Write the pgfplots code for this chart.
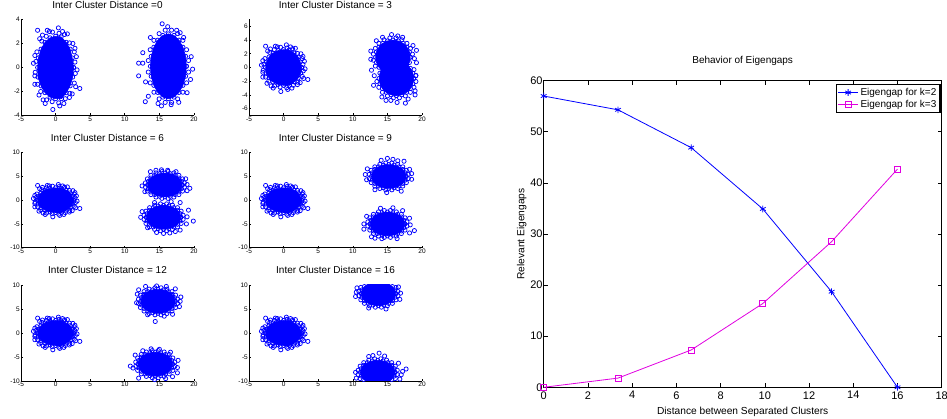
\documentclass[border=0pt]{standalone}
\usepackage{pgfplots}
\pgfplotsset{compat=1.18}
\usepackage{pgfplotstable}
\usepackage{fontspec}
\setmainfont{Liberation Sans}
\definecolor{mblue}{rgb}{0,0,1}
\definecolor{mmag}{rgb}{0.88,0,0.88}

% dense part of the cluster at the origin (same in every panel)
\pgfplotstableread{
x y
2.6 0
2.4 0.8
2.1 1.53
1.53 2.1
0.8 2.55
0 2.6
-0.8 2.47
-1.53 2.1
-2.1 1.53
-2.47 0.8
-2.6 0
-2.55 -0.8
-2.1 -1.53
-1.53 -2.1
-0.8 -2.47
0 -2.6
0.85 -2.6
1.53 -2.1
2.1 -1.53
2.47 -0.8
2.6 0
}\leftcore

% scattered samples of the cluster at the origin
\pgfplotstableread{
x y
2.8 0.45
2.7 1.3
2.0 2.05
1.3 2.75
0.5 2.85
-0.45 2.95
-1.35 2.6
-2.0 2.2
-2.7 1.3
-2.85 0.5
-2.95 -0.4
-2.6 -1.4
-2.15 -2.0
-1.3 -2.7
-0.5 -2.85
0.45 -2.95
1.4 -2.6
2.05 -2.15
2.7 -1.3
2.85 -0.5
-2.6 3.1
0.4 3.3
-0.4 -3.5
0.6 -3.2
1.2 -3.0
3.5 -1.75
-3.2 0.35
-3.0 -1.4
-1.8 -2.7
-1.9 2.7
-2.3 2.4
2.9 -1.6
2.5 2.0
3.0 0.9
3.1 -0.2
1.7 2.8
-1.5 -3.0
-3.0 1.0
1.0 3.0
-0.9 3.0
2.0 -2.5
2.8 1.6
-2.4 -2.3
-3.0 -0.7
2.4 -2.2
-1.2 3.1
}\leftpts

\pgfplotsset{
  mini/.style={
    scale only axis, width=173pt, height=96pt,
    xmin=-5, xmax=20, xtick={-5,0,5,10,15,20},
    axis lines=left, axis line style={-, line width=0.8pt},
    tick align=inside, major tick length=2pt,
    tick style={black, line width=0.6pt},
    tick label style={font=\fontsize{6.5}{7}\selectfont, inner sep=1pt},
    /pgf/number format/assume math mode=true,
    title style={font=\fontsize{10}{12}\selectfont, at={(0.5,1)}, anchor=base, yshift=5.2pt},
  },
  core/.style={draw=mblue, fill=mblue, line width=0.6pt, mark=o, mark size=2.1pt, mark options={line width=0.75pt}},
  pts/.style={only marks, mark=o, draw=mblue, mark size=2.1pt, mark options={line width=0.75pt}},
}

\begin{document}
\begin{tikzpicture}
\useasboundingbox (0,0) rectangle (947pt,419pt);

% ---------- distance 0 ----------
\begin{axis}[mini, at={(21pt,303.5pt)}, anchor=south west,
  ymin=-4, ymax=4, ytick={-4,-2,0,2,4},
  title={Inter Cluster Distance =0}]
\addplot[core] table {\leftcore};
\addplot[pts] table {\leftpts};
\addplot[core] coordinates {(18.9,0.1) (18.78,0.93) (18.4,1.69) (17.83,2.28) (17.1,2.67) (16.3,2.8) (15.5,2.67) (14.77,2.28) (14.2,1.69) (13.82,0.93) (13.7,0.1) (13.82,-0.73) (14.2,-1.49) (14.77,-2.08) (15.5,-2.47) (16.3,-2.6) (17.1,-2.47) (17.83,-2.08) (18.4,-1.49) (18.78,-0.73) (18.9,0.1)};
\addplot[pts] coordinates {(19.21,0.58) (18.93,1.48) (18.39,2.26) (17.64,2.82) (16.76,3.11) (15.84,3.11) (14.96,2.82) (14.21,2.26) (13.67,1.48) (13.39,0.58) (13.39,-0.38) (13.67,-1.28) (14.21,-2.06) (14.96,-2.62) (15.84,-2.91) (16.76,-2.91) (17.64,-2.62) (18.39,-2.06) (18.93,-1.28) (19.21,-0.38)
 (12.0,0.36) (12.6,0.36) (12.0,-0.7) (12.96,-2.85) (14.8,-3.0) (16.7,-3.1) (15.4,3.64) (19.0,-2.1) (19.8,-0.14) (18.5,2.5) (18.0,2.9) (12.6,1.23) (13.0,-1.2) (17.5,3.1) (16.2,3.4) (19.6,0.9) (13.4,-2.4) (17.8,-2.9) (15.3,-3.2) (13.7,2.5) (19.5,-1.0)};
\end{axis}

% ---------- distance 3 ----------
\begin{axis}[mini, at={(249pt,303.5pt)}, anchor=south west,
  ymin=-7, ymax=7, ytick={-6,-4,-2,0,2,4,6},
  title={Inter Cluster Distance = 3}]
\addplot[core] table {\leftcore};
\addplot[pts] table {\leftpts};
\addplot[core] coordinates {(18.3,1.5) (18.18,2.27) (17.82,2.97) (17.27,3.52) (16.57,3.88) (15.8,4.0) (15.03,3.88) (14.33,3.52) (13.78,2.97) (13.42,2.27) (13.3,1.5) (13.42,0.73) (13.78,0.03) (14.33,-0.52) (15.03,-0.88) (15.8,-1.0) (16.57,-0.88) (17.27,-0.52) (17.82,0.03) (18.18,0.73) (18.3,1.5)};
\addplot[core] coordinates {(18.8,-1.6) (18.68,-0.83) (18.32,-0.13) (17.77,0.42) (17.07,0.78) (16.3,0.9) (15.53,0.78) (14.83,0.42) (14.28,-0.13) (13.92,-0.83) (13.8,-1.6) (13.92,-2.37) (14.28,-3.07) (14.83,-3.62) (15.53,-3.98) (16.3,-4.1) (17.07,-3.98) (17.77,-3.62) (18.32,-3.07) (18.68,-2.37) (18.8,-1.6)};
\addplot[pts] coordinates {(18.62,1.94) (18.34,2.79) (17.82,3.52) (17.09,4.04) (16.24,4.32) (15.36,4.32) (14.51,4.04) (13.78,3.52) (13.26,2.79) (12.98,1.94) (12.98,1.06) (13.26,0.21)
 (12.6,2.4) (13.4,3.9) (15.6,4.8) (16.5,4.6) (12.7,-0.4) (17.2,4.4) (14.3,4.4) (19.2,2.5) (19.2,0.7) (18.7,3.2) (12.6,1.2) (18.9,1.3)};
\addplot[pts] coordinates {(19.12,-1.16) (19.12,-2.04) (18.84,-2.89) (18.32,-3.62) (17.59,-4.14) (16.74,-4.42) (15.86,-4.42) (15.01,-4.14) (14.28,-3.62) (13.76,-2.89) (13.48,-2.04) (18.84,-0.31)
 (19.1,-1.2) (19.0,-4.0) (17.6,-5.2) (16.4,-5.1) (14.8,-4.8) (13.0,-2.6) (13.1,-1.2) (15.5,-4.8) (18.0,-4.6) (19.0,-3.4) (14.2,-4.3)};
\end{axis}

% ---------- distance 6 ----------
\begin{axis}[mini, at={(21pt,171.3pt)}, anchor=south west, height=95pt,
  ymin=-10, ymax=10, ytick={-10,-5,0,5,10},
  title={Inter Cluster Distance = 6}]
\addplot[core] table {\leftcore};
\addplot[pts] table {\leftpts};
\addplot[core] coordinates {(18.3,3.2) (18.18,3.97) (17.82,4.67) (17.27,5.22) (16.57,5.58) (15.8,5.7) (15.03,5.58) (14.33,5.22) (13.78,4.67) (13.42,3.97) (13.3,3.2) (13.42,2.43) (13.78,1.73) (14.33,1.18) (15.03,0.82) (15.8,0.7) (16.57,0.82) (17.27,1.18) (17.82,1.73) (18.18,2.43) (18.3,3.2)};
\addplot[core] coordinates {(18.1,-3.6) (17.98,-2.83) (17.62,-2.13) (17.07,-1.58) (16.37,-1.22) (15.6,-1.1) (14.83,-1.22) (14.13,-1.58) (13.58,-2.13) (13.22,-2.83) (13.1,-3.6) (13.22,-4.37) (13.58,-5.07) (14.13,-5.62) (14.83,-5.98) (15.6,-6.1) (16.37,-5.98) (17.07,-5.62) (17.62,-5.07) (17.98,-4.37) (18.1,-3.6)};
\addplot[pts] coordinates {(18.62,3.64) (18.34,4.49) (17.82,5.22) (17.09,5.74) (16.24,6.02) (15.36,6.02) (14.51,5.74) (13.78,5.22) (13.26,4.49) (12.98,3.64) (12.98,2.76) (13.26,1.91) (13.78,1.18) (14.51,0.66) (15.36,0.38) (16.24,0.38) (17.09,0.66) (17.82,1.18) (18.34,1.91) (18.62,2.76)
 (12.5,3.0) (12.9,1.8) (13.7,6.0) (19.4,2.5) (19.0,3.3) (14.5,6.3) (15.3,6.4) (16.2,6.3) (17.4,6.0) (18.8,4.5) (19.0,2.0)};
\addplot[pts] coordinates {(18.42,-3.16) (18.14,-2.31) (17.62,-1.58) (16.89,-1.06) (16.04,-0.78) (15.16,-0.78) (14.31,-1.06) (13.58,-1.58) (13.06,-2.31) (12.78,-3.16) (12.78,-4.04) (13.06,-4.89) (13.58,-5.62) (14.31,-6.14) (15.16,-6.42) (16.04,-6.42) (16.89,-6.14) (17.62,-5.62) (18.14,-4.89) (18.42,-4.04)
 (19.9,-4.4) (19.2,-2.1) (15.6,-7.0) (18.0,-6.3) (13.3,-5.8) (12.5,-2.4) (18.0,-0.5) (16.7,-0.3) (14.3,-0.5) (19.0,-3.5) (17.3,-6.6) (14.6,-6.8) (12.3,-3.6) (16.5,-6.9) (18.9,-5.0)};
\end{axis}

% ---------- distance 9 ----------
\begin{axis}[mini, at={(249pt,171.3pt)}, anchor=south west, height=95pt,
  ymin=-10, ymax=10, ytick={-10,-5,0,5,10},
  title={Inter Cluster Distance = 9}]
\addplot[core] table {\leftcore};
\addplot[pts] table {\leftpts};
\addplot[core] coordinates {(17.7,5.0) (17.58,5.77) (17.22,6.47) (16.67,7.02) (15.97,7.38) (15.2,7.5) (14.43,7.38) (13.73,7.02) (13.18,6.47) (12.82,5.77) (12.7,5.0) (12.82,4.23) (13.18,3.53) (13.73,2.98) (14.43,2.62) (15.2,2.5) (15.97,2.62) (16.67,2.98) (17.22,3.53) (17.58,4.23) (17.7,5.0)};
\addplot[core] coordinates {(17.5,-5.0) (17.38,-4.23) (17.02,-3.53) (16.47,-2.98) (15.77,-2.62) (15.0,-2.5) (14.23,-2.62) (13.53,-2.98) (12.98,-3.53) (12.62,-4.23) (12.5,-5.0) (12.62,-5.77) (12.98,-6.47) (13.53,-7.02) (14.23,-7.38) (15.0,-7.5) (15.77,-7.38) (16.47,-7.02) (17.02,-6.47) (17.38,-5.77) (17.5,-5.0)};
\addplot[pts] coordinates {(18.02,5.44) (17.74,6.29) (17.22,7.02) (16.49,7.54) (15.64,7.82) (14.76,7.82) (13.91,7.54) (13.18,7.02) (12.66,6.29) (12.38,5.44) (12.38,4.56) (12.66,3.71) (13.18,2.98) (13.91,2.46) (14.76,2.18) (15.64,2.18) (16.49,2.46) (17.22,2.98) (17.74,3.71) (18.02,4.56)
 (11.8,5.4) (12.0,4.3) (15.0,8.8) (17.4,8.2) (18.5,4.4) (14.9,1.6) (12.1,6.6) (14.1,8.4) (16.5,8.3) (18.2,6.5) (17.0,1.9) (13.2,2.2) (18.5,5.6) (15.8,8.6)};
\addplot[pts] coordinates {(17.82,-4.56) (17.54,-3.71) (17.02,-2.98) (16.29,-2.46) (15.44,-2.18) (14.56,-2.18) (13.71,-2.46) (12.98,-2.98) (12.46,-3.71) (12.18,-4.56) (12.18,-5.44) (12.46,-6.29) (12.98,-7.02) (13.71,-7.54) (14.56,-7.82) (15.44,-7.82) (16.29,-7.54) (17.02,-7.02) (17.54,-6.29) (17.82,-5.44)
 (11.6,-6.1) (18.9,-6.4) (15.8,-1.6) (17.2,-2.2) (14.2,-8.1) (18.2,-6.9) (14.0,-1.7) (12.0,-3.4) (18.2,-3.8) (16.4,-8.1) (12.7,-7.7) (11.6,-5.0) (18.3,-5.2) (13.2,-8.0)};
\end{axis}

% ---------- distance 12 ----------
\begin{axis}[mini, at={(21pt,38pt)}, anchor=south west,
  ymin=-10, ymax=10, ytick={-10,-5,0,5,10},
  title={Inter Cluster Distance = 12}]
\addplot[core] table {\leftcore};
\addplot[pts] table {\leftpts};
\addplot[core] coordinates {(17.3,6.6) (17.18,7.37) (16.82,8.07) (16.27,8.62) (15.57,8.98) (14.8,9.1) (14.03,8.98) (13.33,8.62) (12.78,8.07) (12.42,7.37) (12.3,6.6) (12.42,5.83) (12.78,5.13) (13.33,4.58) (14.03,4.22) (14.8,4.1) (15.57,4.22) (16.27,4.58) (16.82,5.13) (17.18,5.83) (17.3,6.6)};
\addplot[core] coordinates {(16.9,-6.5) (16.78,-5.73) (16.42,-5.03) (15.87,-4.48) (15.17,-4.12) (14.4,-4.0) (13.63,-4.12) (12.93,-4.48) (12.38,-5.03) (12.02,-5.73) (11.9,-6.5) (12.02,-7.27) (12.38,-7.97) (12.93,-8.52) (13.63,-8.88) (14.4,-9.0) (15.17,-8.88) (15.87,-8.52) (16.42,-7.97) (16.78,-7.27) (16.9,-6.5)};
\addplot[pts] coordinates {(17.62,7.04) (17.34,7.89) (16.82,8.62) (16.09,9.14) (15.24,9.42) (14.36,9.42) (13.51,9.14) (12.78,8.62) (12.26,7.89) (11.98,7.04) (11.98,6.16) (12.26,5.31) (12.78,4.58) (13.51,4.06) (14.36,3.78) (15.24,3.78) (16.09,4.06) (16.82,4.58) (17.34,5.31) (17.62,6.16)
 (14.4,2.4) (18.1,7.5) (18.0,6.6) (12.0,9.0) (13.0,9.7) (14.6,9.8) (16.0,9.7) (17.3,9.2) (17.9,5.5) (11.7,6.3) (15.7,3.5) (13.3,3.8) (16.9,3.9) (11.8,8.1)};
\addplot[pts] coordinates {(17.22,-6.06) (16.94,-5.21) (16.42,-4.48) (15.69,-3.96) (14.84,-3.68) (13.96,-3.68) (13.11,-3.96) (12.38,-4.48) (11.86,-5.21) (11.58,-6.06) (11.58,-6.94) (11.86,-7.79) (12.38,-8.52) (13.11,-9.04) (13.96,-9.32) (14.84,-9.32) (15.69,-9.04) (16.42,-8.52) (16.94,-7.79) (17.22,-6.94)
 (10.8,-6.9) (11.2,-7.3) (17.7,-5.7) (13.8,-3.3) (15.0,-3.4) (16.6,-4.0) (17.6,-8.3) (12.0,-9.4) (14.3,-9.7) (15.9,-9.5) (17.6,-7.2) (12.6,-3.7) (11.5,-4.6) (16.9,-9.1)};
\end{axis}

% ---------- distance 16 ----------
\begin{axis}[mini, at={(249pt,38pt)}, anchor=south west,
  ymin=-10, ymax=10, ytick={-10,-5,0,5,10},
  title={Inter Cluster Distance = 16}]
\addplot[core] table {\leftcore};
\addplot[pts] table {\leftpts};
\addplot[core] coordinates {(16.2,8.2) (16.08,8.97) (15.72,9.67) (15.17,10.22) (14.47,10.58) (13.7,10.7) (12.93,10.58) (12.23,10.22) (11.68,9.67) (11.32,8.97) (11.2,8.2) (11.32,7.43) (11.68,6.73) (12.23,6.18) (12.93,5.82) (13.7,5.7) (14.47,5.82) (15.17,6.18) (15.72,6.73) (16.08,7.43) (16.2,8.2)};
\addplot[core] coordinates {(16.1,-8.2) (15.98,-7.43) (15.62,-6.73) (15.07,-6.18) (14.37,-5.82) (13.6,-5.7) (12.83,-5.82) (12.13,-6.18) (11.58,-6.73) (11.22,-7.43) (11.1,-8.2) (11.22,-8.97) (11.58,-9.67) (12.13,-10.22) (12.83,-10.58) (13.6,-10.7) (14.37,-10.58) (15.07,-10.22) (15.62,-9.67) (15.98,-8.97) (16.1,-8.2)};
\addplot[pts] coordinates {(16.52,8.64) (16.24,9.49) (15.72,10.22) (11.68,10.22) (11.16,9.49) (10.88,8.64) (10.88,7.76) (11.16,6.91) (11.68,6.18) (12.41,5.66) (13.26,5.38) (14.14,5.38) (14.99,5.66) (15.72,6.18) (16.24,6.91) (16.52,7.76)
 (10.4,7.6) (10.6,9.4) (16.9,8.3) (16.8,7.0) (14.8,5.0) (12.3,5.2) (16.6,9.6) (10.5,8.5)};
\addplot[pts] coordinates {(16.42,-7.76) (16.14,-6.91) (15.62,-6.18) (14.89,-5.66) (14.04,-5.38) (13.16,-5.38) (12.31,-5.66) (11.58,-6.18) (11.06,-6.91) (10.78,-7.76) (10.78,-8.64) (11.06,-9.49) (11.58,-10.22) (15.62,-10.22) (16.14,-9.49) (16.42,-8.64)
 (13.8,-4.2) (17.7,-7.5) (10.4,-8.2) (16.6,-6.3) (14.6,-4.8) (12.3,-4.9) (17.0,-8.7) (17.2,-8.0) (10.5,-9.4) (16.8,-9.6) (12.9,-4.7)};
\end{axis}

% ---------- eigengaps ----------
\begin{axis}[at={(543.7pt,31.7pt)}, anchor=south west,
  scale only axis, width=398pt, height=306.6pt,
  xmin=0, xmax=18, ymin=0, ymax=60,
  xtick={0,2,...,18}, ytick={0,10,...,60},
  tick align=inside, major tick length=4pt,
  axis line style={line width=0.8pt},
  tick style={black, line width=0.6pt},
  tick label style={font=\fontsize{11}{12}\selectfont},
  yticklabel style={inner xsep=1pt},
  xticklabel style={yshift=-0.5pt},
  /pgf/number format/assume math mode=true,
  title={Behavior of Eigengaps},
  title style={font=\fontsize{10}{12}\selectfont, at={(0.5,1)}, anchor=base, yshift=11pt},
  xlabel={Distance between Separated Clusters},
  ylabel={Relevant Eigengaps},
  every axis x label/.style={at={(axis description cs:0.5,0)}, anchor=base, yshift=-27pt, font=\fontsize{10.2}{12}\selectfont},
  every axis y label/.style={at={(axis description cs:-0.0553,0.5)}, rotate=90, anchor=center, font=\fontsize{10.2}{12}\selectfont},
  legend style={at={(axis description cs:0.997,0.989)}, anchor=north east,
    draw=black, line width=1.2pt, font=\fontsize{10}{12}\selectfont,
    inner sep=1.5pt, row sep=-1pt},
  legend cell align=left,
  legend image code/.code={\draw[mark repeat=2,mark phase=2,#1] plot coordinates {(0pt,0pt) (10pt,0pt) (20pt,0pt)};},
  clip=false]
\addplot[mblue, line width=0.8pt, mark=asterisk, mark size=3.3pt] coordinates {
  (0,57.0) (3.36,54.3) (6.67,46.9) (9.91,34.9) (13.02,18.7) (16,0)};
\addlegendentry{Eigengap for k=2}
\addplot[mmag, line width=0.8pt, mark=square, mark size=3pt] coordinates {
  (0,0) (3.36,1.8) (6.67,7.3) (9.91,16.4) (13.02,28.5) (16,42.7)};
\addlegendentry{Eigengap for k=3}
\end{axis}
\end{tikzpicture}
\end{document}
